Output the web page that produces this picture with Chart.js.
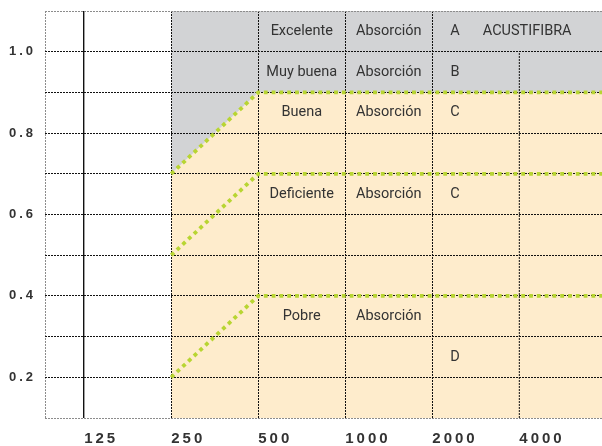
<!DOCTYPE html>
<html><head><meta charset="utf-8">
<script src="https://cdn.jsdelivr.net/npm/chart.js@4"></script>
<style>html,body{margin:0;padding:0;background:#fff;overflow:hidden;}</style>
</head><body>
<canvas id="c" width="602" height="446"></canvas>
<script>
// ---- data ----
const freqLabels = ['125','250','500','1000','2000','4000'];
const freqPos = [0, 1, 2, 3, 4, 5];
const xRange = [-0.45, 5.95];
const yGrid = [0.1,0.2,0.3,0.4,0.5,0.6,0.7,0.8,0.9,1.0,1.1];
const yLabels = ['0.2','0.4','0.6','0.8','1.0'];
const limitX = [1, 2, 6];
const limitHigh = [0.7, 0.9, 0.9];
const limitMid = [0.5, 0.7, 0.7];
const limitLow = [0.2, 0.4, 0.4];
const rowY = [1.05, 0.95, 0.85, 0.65, 0.35];
const ratingText = ['Excelente','Muy buena','Buena','Deficiente','Pobre'];
const absText = ['Absorción','Absorción','Absorción','Absorción','Absorción'];
const classY = [1.05, 0.95, 0.85, 0.65, 0.25];
const classText = ['A','B','C','C','D'];
const brandText = 'ACUSTIFIBRA';
const brandPos = [5.09, 1.05];
const ratingCol = 2.5, absCol = 3.5, classCol = 4.26;
const col4000X = 5;
const col4000Span = [0.1, 1.0];

const pts = (xs, ys) => xs.map((x, i) => ({x, y: ys[i]}));
const GREEN = '#b8d532';
const greenLine = ys => ({data: pts(limitX, ys), borderColor: GREEN, borderWidth: 3.8,
  borderDash: [3.8, 4], borderCapStyle: 'butt', pointRadius: 0, fill: false, order: 0});

const cellPlugin = {
  id: 'cells',
  beforeDraw(chart) { chart.ctx.letterSpacing = '3px'; },
  afterDatasetsDraw(chart) { chart.ctx.letterSpacing = '3.6px'; },
  afterDraw(chart) {
    const ctx = chart.ctx, xs = chart.scales.x, ys = chart.scales.y;
    ctx.save();
    ctx.letterSpacing = '0px';
    ctx.font = '14.5px Roboto';
    ctx.fillStyle = '#333';
    ctx.textAlign = 'center';
    ctx.textBaseline = 'middle';
    rowY.forEach((y, i) => {
      const py = ys.getPixelForValue(y);
      ctx.fillText(ratingText[i], xs.getPixelForValue(ratingCol), py);
      ctx.fillText(absText[i], xs.getPixelForValue(absCol), py);
    });
    classY.forEach((y, i) => ctx.fillText(classText[i], xs.getPixelForValue(classCol), ys.getPixelForValue(y)));
    ctx.fillText(brandText, xs.getPixelForValue(brandPos[0]), ys.getPixelForValue(brandPos[1]));
    ctx.restore();
  }
};

new Chart(document.getElementById('c'), {
  type: 'line',
  data: {
    datasets: [
      {data: pts(limitX, limitHigh), borderWidth: 0, pointRadius: 0, fill: 'end', backgroundColor: '#d2d3d5', order: 20},
      {data: pts(limitX, limitHigh), borderWidth: 0, pointRadius: 0, fill: 'start', backgroundColor: '#feeccc', order: 21},
      {data: [{x: col4000X, y: col4000Span[0]}, {x: col4000X, y: col4000Span[1]}], borderColor: '#111', borderWidth: 1,
        borderDash: [2, 1], pointRadius: 0, fill: false, order: 10},
      greenLine(limitHigh), greenLine(limitMid), greenLine(limitLow)
    ]
  },
  options: {
    responsive: false, animation: false, devicePixelRatio: 1,
    layout: {padding: {top: 11, left: 0, right: 0, bottom: 0}},
    plugins: {legend: {display: false}, tooltip: {enabled: false}, filler: {drawTime: 'beforeDraw'}},
    elements: {line: {tension: 0}},
    scales: {
      x: {
        type: 'linear', min: xRange[0], max: xRange[1], z: 1,
        afterBuildTicks: s => { s.ticks = [xRange[0], ...freqPos].map(v => ({value: v})); },
        afterFit: s => { s.height = 28; s.paddingLeft = 0; s.paddingRight = 0; },
        border: {display: false, dash: c => (c.tick && c.tick.value === 0) ? [] : [2, 1]},
        grid: {
          drawTicks: false,
          color: c => { const v = c.tick ? c.tick.value : null;
            if (v === xRange[0]) return '#8c8c8c';
            if (v === col4000X) return 'rgba(0,0,0,0)';
            return '#111'; },
          lineWidth: c => (c.tick && c.tick.value === 0) ? 1.4 : 1
        },
        ticks: {
          autoSkip: false, maxRotation: 0, align: 'start', padding: 12, color: '#333',
          font: {family: 'Liberation Sans', size: 15, weight: 'bold'},
          callback: v => { const i = freqPos.indexOf(v); return i >= 0 ? freqLabels[i] : ''; }
        }
      },
      y: {
        type: 'linear', min: yGrid[0], max: yGrid[yGrid.length - 1], z: -1,
        afterBuildTicks: s => { s.ticks = yGrid.map(v => ({value: v})); },
        afterFit: s => { s.width = 45; s.paddingTop = 0; s.paddingBottom = 0; },
        border: {display: false, dash: [2, 1]},
        grid: {
          drawTicks: false,
          color: c => { const v = c.tick ? c.tick.value : null;
            return (v === yGrid[0] || v === yGrid[yGrid.length - 1]) ? '#8c8c8c' : '#111'; }
        },
        ticks: {
          autoSkip: false, padding: 9, color: '#333',
          font: {family: 'Liberation Sans', size: 13, weight: 'bold'},
          callback: v => { const t = Number(v).toFixed(1); return yLabels.includes(t) ? t : ''; }
        }
      }
    }
  },
  plugins: [cellPlugin]
});
</script>
</body></html>
